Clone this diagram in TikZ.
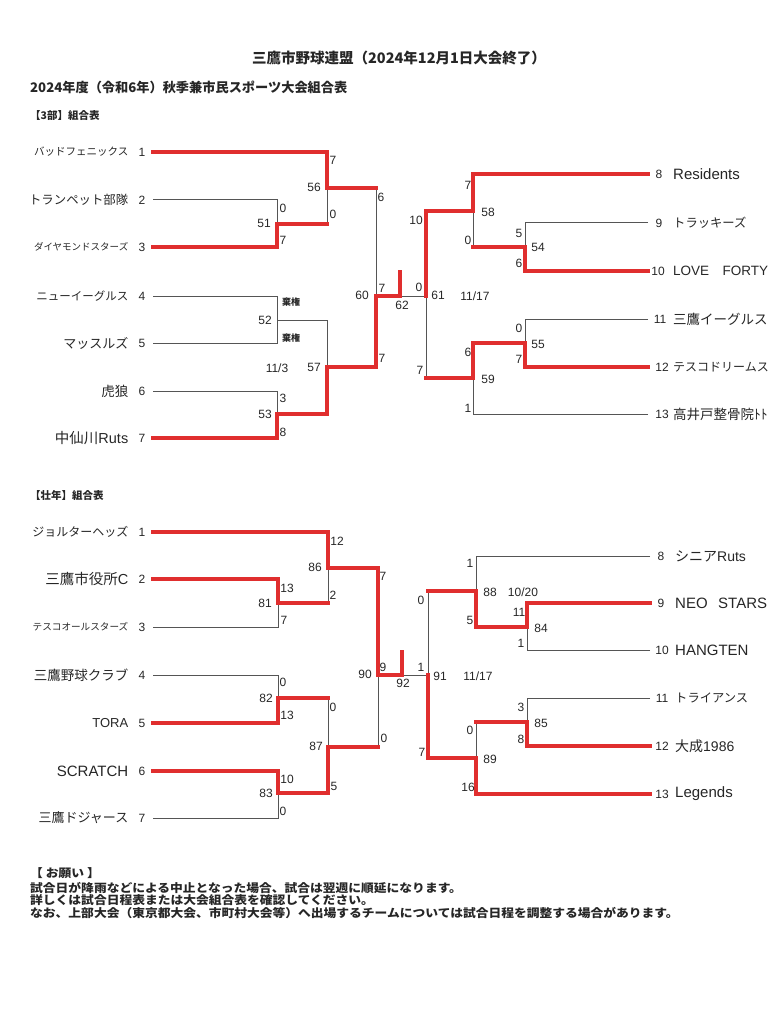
\documentclass[tikz,border=0pt]{standalone}
\usepackage{fontspec}
\setmainfont{Liberation Sans}
\newfontfamily\jp{Noto Sans CJK JP}
\newfontfamily\jpwide{Noto Sans CJK JP}[FakeStretch=1.1]
\usetikzlibrary{positioning}
\newcommand{\fs}[1]{\fontsize{#1}{#1}\selectfont}
\definecolor{winred}{RGB}{224,46,46}
\definecolor{inkgray}{RGB}{85,85,85}
\tikzstyle{bracket} = [draw=inkgray, line width=1pt]
\tikzstyle{winner} = [draw=winred, line width=3.5pt, line cap=rect]
\tikzstyle{score} = [inner sep=0pt, text=black!85, font=\fs{12}]
\tikzstyle{matchno} = [inner sep=0pt, text=black!85, font=\fs{12}]
\tikzstyle{forfeit} = [inner sep=0pt, text=black!85, font=\jp\bfseries\fs{9}]
\tikzstyle{teamno} = [inner sep=0pt, text=black!85, font=\fs{12}]
\tikzstyle{team} = [inner sep=0pt, text=black!85]
\tikzstyle{heading} = [inner sep=0pt, anchor=west, text=black!85]
\tikzstyle{note} = [inner sep=0pt, anchor=west, text=black!85, font=\jpwide\bfseries\fs{11.6}]

\begin{document}
\begin{tikzpicture}[x=1pt,y=-1pt]
    \useasboundingbox (0,0) rectangle (775,1024);

    % headings
    \node (title) [inner sep=0pt, text=black!85, font=\jp\bfseries\fs{14.5}] at (399,58) {三鷹市野球連盟（2024年12月1日大会終了）};
    \node (subtitle) [heading, font=\jp\bfseries\fs{13.2}] at (30,87) {2024年度（令和6年）秋季兼市民スポーツ大会組合表};
    \node (sec3) [heading, font=\jp\bfseries\fs{10.5}] at (30,116) {【3部】組合表};
    \node (secS) [heading, font=\jp\bfseries\fs{10.5}] at (30,495) {【壮年】組合表};

    % ---- 3部 ----
    \coordinate (a1) at (153,152);
    \coordinate (a2) at (153,200);
    \coordinate (a3) at (153,247);
    \coordinate (a4) at (153,296);
    \coordinate (a5) at (153,343);
    \coordinate (a6) at (153,391);
    \coordinate (a7) at (153,438);
    \coordinate (b8) at (648,174);
    \coordinate (b9) at (648,223);
    \coordinate (b10) at (648,271);
    \coordinate (b11) at (648,319);
    \coordinate (b12) at (648,367);
    \coordinate (b13) at (648,414);
    \coordinate (m51) at (277,224);
    \coordinate (m52) at (277,320);
    \coordinate (m53) at (277,414);
    \coordinate (m56) at (327,188);
    \coordinate (m57) at (327,367);
    \coordinate (m60) at (376,296);
    \coordinate (m62) at (400,296);
    \coordinate (w62) at (400,272);
    \coordinate (m54) at (525,247);
    \coordinate (m55) at (525,343);
    \coordinate (m58) at (473,211);
    \coordinate (m59) at (473,378);
    \coordinate (m61) at (426,296);

    \node (L1) [teamno] at (142,152) {1};
    \node (L2) [teamno] at (142,200) {2};
    \node (L3) [teamno] at (142,247) {3};
    \node (L4) [teamno] at (142,296) {4};
    \node (L5) [teamno] at (142,343) {5};
    \node (L6) [teamno] at (142,391) {6};
    \node (L7) [teamno] at (142,438) {7};
    \node (LN1) [team, left=10pt of L1, font=\jp\fs{10.5}] {バッドフェニックス};
    \node (LN2) [team, left=10pt of L2, font=\jp\fs{12.4}] {トランペット部隊};
    \node (LN3) [team, left=10pt of L3, font=\jp\fs{9.5}] {ダイヤモンドスターズ};
    \node (LN4) [team, left=10pt of L4, font=\jp\fs{11.5}] {ニューイーグルス};
    \node (LN5) [team, left=10pt of L5, font=\jp\fs{13}] {マッスルズ};
    \node (LN6) [team, left=10pt of L6, font=\jp\fs{13.5}] {虎狼};
    \node (LN7) [team, left=10pt of L7, font=\fs{14.5}] {{\jp 中仙川}Ruts};

    \node (R8) [teamno] at (659,174) {8};
    \node (R9) [teamno] at (659,223) {9};
    \node (R10) [teamno] at (658,271) {10};
    \node (R11) [teamno] at (660,319) {11};
    \node (R12) [teamno] at (662,367) {12};
    \node (R13) [teamno] at (662,414) {13};
    \node (RN8) [team, anchor=west, font=\fs{15}] at (673,174) {Residents};
    \node (RN9) [team, anchor=west, font=\jp\fs{12.3}] at (673,223) {トラッキーズ};
    \node (RN10) [team, anchor=west, font=\fs{13.5}] at (673,271) {LOVE\quad FORTY};
    \node (RN11) [team, anchor=west, font=\jp\fs{13.5}] at (673,319) {三鷹イーグルス};
    \node (RN12) [team, anchor=west, font=\jp\fs{12}] at (673,367) {テスコドリームス};
    \node (RN13) [team, anchor=west, font=\jp\fs{13.5}] at (673,414) {高井戸整骨院ﾄﾄ};

    \draw [bracket] (a2) -| (m51);
    \draw [bracket] (m51 -| m56) -- (m56);
    \draw [bracket] (m56 -| m60) -- (m60);
    \draw [bracket] (a4) -| (m52);
    \draw [bracket] (a5) -| (m52);
    \draw [bracket] (a6) -| (m53);
    \draw [bracket] (m52) -| (m57);
    \draw [bracket] (b9) -| (m54);
    \draw [bracket] (m54 -| m58) -- (m58);
    \draw [bracket] (b11) -| (m55);
    \draw [bracket] (b13) -| (m59);
    \draw [bracket] (m59 -| m61) -- (m61);
    \draw [bracket] (m61) -- (m62);

    \draw [winner] (a1) -| (m56);
    \draw [winner] (a3) -| (m51);
    \draw [winner] (m51) -- (m51 -| m56);
    \draw [winner] (m56) -- (m56 -| m60);
    \draw [winner] (a7) -| (m53);
    \draw [winner] (m53) -| (m57);
    \draw [winner] (m57) -| (m60);
    \draw [winner] (m60) -- (m62);
    \draw [winner] (m62) -- (w62);
    \draw [winner] (b8) -| (m58);
    \draw [winner] (b10) -| (m54);
    \draw [winner] (m54) -- (m54 -| m58);
    \draw [winner] (m58) -| (m61);
    \draw [winner] (b12) -| (m55);
    \draw [winner] (m55) -| (m59);
    \draw [winner] (m59) -- (m59 -| m61);

    \node (s56a) [score] at (333,160) {7};
    \node (s56b) [score] at (333,214) {0};
    \node (n56) [matchno] at (314,187) {56};
    \node (s51a) [score] at (283,208) {0};
    \node (s51b) [score] at (283,240) {7};
    \node (n51) [matchno] at (264,223) {51};
    \node (s52a) [forfeit] at (291,302) {棄権};
    \node (s52b) [forfeit] at (291,338) {棄権};
    \node (n52) [matchno] at (265,320) {52};
    \node (s53a) [score] at (283,398) {3};
    \node (s53b) [score] at (283,432) {8};
    \node (n53) [matchno] at (265,414) {53};
    \node (d57) [score] at (277,368) {11/3};
    \node (n57) [matchno] at (314,367) {57};
    \node (s60a) [score] at (381,197) {6};
    \node (s60b) [score] at (382,358) {7};
    \node (n60) [matchno] at (362,295) {60};
    \node (s62a) [score] at (382,288) {7};
    \node (s62b) [score] at (419,287) {0};
    \node (n62) [matchno] at (402,305) {62};
    \node (n61) [matchno] at (438,295) {61};
    \node (d61) [score] at (475,296) {11/17};
    \node (s61a) [score] at (416,220) {10};
    \node (s61b) [score] at (420,370) {7};
    \node (s58a) [score] at (468,185) {7};
    \node (s58b) [score] at (468,240) {0};
    \node (n58) [matchno] at (488,212) {58};
    \node (s54a) [score] at (519,233) {5};
    \node (s54b) [score] at (519,263) {6};
    \node (n54) [matchno] at (538,247) {54};
    \node (s55a) [score] at (519,328) {0};
    \node (s55b) [score] at (519,359) {7};
    \node (n55) [matchno] at (538,344) {55};
    \node (s59a) [score] at (468,352) {6};
    \node (s59b) [score] at (468,408) {1};
    \node (n59) [matchno] at (488,379) {59};

    % ---- 壮年 ----
    \coordinate (c1) at (153,532);
    \coordinate (c2) at (153,579);
    \coordinate (c3) at (153,627);
    \coordinate (c4) at (153,675);
    \coordinate (c5) at (153,723);
    \coordinate (c6) at (153,771);
    \coordinate (c7) at (153,818);
    \coordinate (d8) at (650,556);
    \coordinate (d9) at (650,603);
    \coordinate (d10) at (650,650);
    \coordinate (d11) at (650,698);
    \coordinate (d12) at (650,746);
    \coordinate (d13) at (650,794);
    \coordinate (m81) at (278,603);
    \coordinate (m82) at (278,698);
    \coordinate (m83) at (278,793);
    \coordinate (m86) at (328,568);
    \coordinate (m87) at (328,747);
    \coordinate (m90) at (378,675);
    \coordinate (m92) at (402,675);
    \coordinate (w92) at (402,652);
    \coordinate (m84) at (527,627);
    \coordinate (m85) at (527,722);
    \coordinate (m88) at (476,591);
    \coordinate (m89) at (476,758);
    \coordinate (m91) at (428,675);

    \node (K1) [teamno] at (142,532) {1};
    \node (K2) [teamno] at (142,579) {2};
    \node (K3) [teamno] at (142,627) {3};
    \node (K4) [teamno] at (142,675) {4};
    \node (K5) [teamno] at (142,723) {5};
    \node (K6) [teamno] at (142,771) {6};
    \node (K7) [teamno] at (142,818) {7};
    \node (KN1) [team, left=10pt of K1, font=\jp\fs{12}] {ジョルターヘッズ};
    \node (KN2) [team, left=10pt of K2, font=\fs{14.5}] {{\jp 三鷹市役所}C};
    \node (KN3) [team, left=10pt of K3, font=\jp\fs{9.6}] {テスコオールスターズ};
    \node (KN4) [team, left=10pt of K4, font=\jp\fs{13.5}] {三鷹野球クラブ};
    \node (KN5) [team, left=10pt of K5, font=\fs{13}] {TORA};
    \node (KN6) [team, left=10pt of K6, font=\fs{15}] {SCRATCH};
    \node (KN7) [team, left=10pt of K7, font=\jp\fs{13}] {三鷹ドジャース};

    \node (Q8) [teamno] at (661,556) {8};
    \node (Q9) [teamno] at (661,603) {9};
    \node (Q10) [teamno] at (662,650) {10};
    \node (Q11) [teamno] at (662,698) {11};
    \node (Q12) [teamno] at (662,746) {12};
    \node (Q13) [teamno] at (662,794) {13};
    \node (QN8) [team, anchor=west, font=\fs{14}] at (675,556) {{\jp シニア}Ruts};
    \node (QN9) [team, anchor=west, font=\fs{15}] at (675,603) {NEO\hspace{0.7em}STARS};
    \node (QN10) [team, anchor=west, font=\fs{15}] at (675,650) {HANGTEN};
    \node (QN11) [team, anchor=west, font=\jp\fs{12.3}] at (675,698) {トライアンス};
    \node (QN12) [team, anchor=west, font=\fs{14}] at (675,746) {{\jp 大成}1986};
    \node (QN13) [team, anchor=west, font=\fs{15}] at (675,794) {Legends};

    \draw [bracket] (c3) -| (m81);
    \draw [bracket] (m81 -| m86) -- (m86);
    \draw [bracket] (c4) -| (m82);
    \draw [bracket] (c7) -| (m83);
    \draw [bracket] (m82 -| m87) -- (m87);
    \draw [bracket] (m87 -| m90) -- (m90);
    \draw [bracket] (d8) -| (m88);
    \draw [bracket] (d10) -| (m84);
    \draw [bracket] (m88 -| m91) -- (m91);
    \draw [bracket] (d11) -| (m85);
    \draw [bracket] (m85 -| m89) -- (m89);
    \draw [bracket] (m91) -- (m92);

    \draw [winner] (c1) -| (m86);
    \draw [winner] (c2) -| (m81);
    \draw [winner] (m81) -- (m81 -| m86);
    \draw [winner] (m86) -| (m90);
    \draw [winner] (c5) -| (m82);
    \draw [winner] (m82) -- (m82 -| m87);
    \draw [winner] (c6) -| (m83);
    \draw [winner] (m83) -| (m87);
    \draw [winner] (m87) -- (m87 -| m90);
    \draw [winner] (m90) -- (m92);
    \draw [winner] (m92) -- (w92);
    \draw [winner] (d9) -| (m84);
    \draw [winner] (m84) -| (m88);
    \draw [winner] (m88) -- (m88 -| m91);
    \draw [winner] (d12) -| (m85);
    \draw [winner] (m85) -- (m85 -| m89);
    \draw [winner] (d13) -| (m89);
    \draw [winner] (m89) -| (m91);

    \node (s86a) [score] at (337,541) {12};
    \node (s86b) [score] at (333,595) {2};
    \node (n86) [matchno] at (315,567) {86};
    \node (s81a) [score] at (287,588) {13};
    \node (s81b) [score] at (284,620) {7};
    \node (n81) [matchno] at (265,603) {81};
    \node (s82a) [score] at (283,682) {0};
    \node (s82b) [score] at (287,715) {13};
    \node (n82) [matchno] at (266,698) {82};
    \node (s83a) [score] at (287,779) {10};
    \node (s83b) [score] at (283,811) {0};
    \node (n83) [matchno] at (266,793) {83};
    \node (s87a) [score] at (333,707) {0};
    \node (s87b) [score] at (334,786) {5};
    \node (n87) [matchno] at (316,746) {87};
    \node (s90a) [score] at (383,576) {7};
    \node (s90b) [score] at (384,738) {0};
    \node (n90) [matchno] at (365,674) {90};
    \node (s92a) [score] at (383,667) {9};
    \node (s92b) [score] at (421,667) {1};
    \node (n92) [matchno] at (403,683) {92};
    \node (n91) [matchno] at (440,676) {91};
    \node (d91) [score] at (478,676) {11/17};
    \node (s91a) [score] at (421,600) {0};
    \node (s91b) [score] at (422,752) {7};
    \node (s88a) [score] at (470,563) {1};
    \node (s88b) [score] at (470,620) {5};
    \node (n88) [matchno] at (490,592) {88};
    \node (d88) [score] at (523,592) {10/20};
    \node (s84a) [score] at (519,612) {11};
    \node (s84b) [score] at (521,643) {1};
    \node (n84) [matchno] at (541,628) {84};
    \node (s85a) [score] at (521,707) {3};
    \node (s85b) [score] at (521,739) {8};
    \node (n85) [matchno] at (541,723) {85};
    \node (s89a) [score] at (470,730) {0};
    \node (s89b) [score] at (468,787) {16};
    \node (n89) [matchno] at (490,759) {89};

    % notes
    \node (ask) [note] at (30,873) {【 お願い 】};
    \node (note1) [note] at (30,888) {試合日が降雨などによる中止となった場合、試合は翌週に順延になります。};
    \node (note2) [note] at (30,900.5) {詳しくは試合日程表または大会組合表を確認してください。};
    \node (note3) [note] at (30,913) {なお、上部大会（東京都大会、市町村大会等）へ出場するチームについては試合日程を調整する場合があります。};

\end{tikzpicture}
\end{document}
